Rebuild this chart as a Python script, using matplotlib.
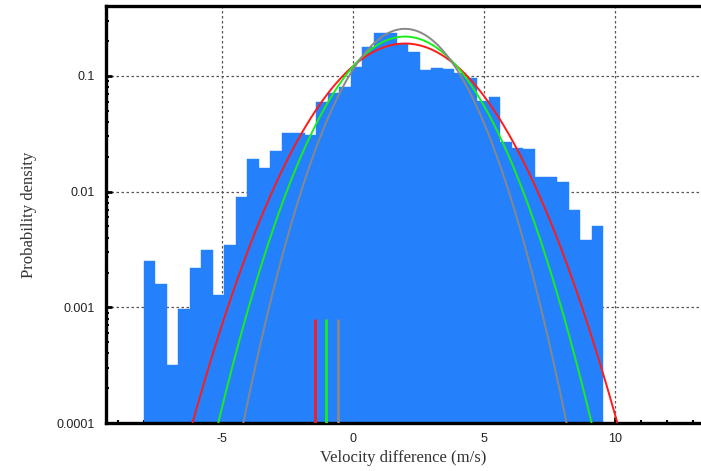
import numpy as np
import matplotlib
matplotlib.use('Agg')
import matplotlib.pyplot as plt
from matplotlib.ticker import MultipleLocator, FixedLocator, LogLocator

#HISTOGRAM DATA (velocity difference, m/s)

bin_start = -8.0
bin_end = 9.57
bin_count = 40
density = [0.00252, 0.0016, 0.000316, 0.00096, 0.0022, 0.00313, 0.00128, 0.00346,
           0.00896, 0.0192, 0.0160, 0.0226, 0.0324, 0.0320, 0.0309, 0.0593,
           0.0709, 0.0798, 0.1189, 0.177, 0.234, 0.234, 0.188, 0.162,
           0.1127, 0.118, 0.115, 0.107, 0.097, 0.0609, 0.0663, 0.0271,
           0.0240, 0.0234, 0.0133, 0.0133, 0.0122, 0.00695, 0.00383, 0.00506]

#FITTED NORMAL CURVES (mean, std)

fit_colors = ['#ff1a1a', '#1aee1a', '#888888']
fit_mean = [1.98, 1.98, 1.98]
fit_std = [2.09, 1.82, 1.56]

#MARKER LINES

marker_x = [-1.45, -1.02, -0.58]
marker_top = 0.0008

xticks = [-5, 0, 5, 10]
yticks = [0.0001, 0.001, 0.01, 0.1]
ytick_labels = ['0.0001', '0.001', '0.01', '0.1']


def main():
	fig = plt.figure(figsize=(7.01, 4.71), dpi=100)
	ax = fig.add_axes([0.1512, 0.1019, 0.8488, 0.8854])

	edges = np.linspace(bin_start, bin_end, bin_count + 1)
	width = edges[1] - edges[0]

	ax.set_yscale('log')
	ax.set_axisbelow(True)
	ax.grid(True, which='major', color='#555555', linestyle=(0, (2, 2)), linewidth=0.9)

	ax.bar(edges[:-1], density, width=width, align='edge', color='#2481fb',
	       edgecolor='#2481fb', linewidth=0.3, zorder=2)

	xs = np.linspace(-9.5, 13.5, 800)
	for m, s, c in zip(fit_mean, fit_std, fit_colors):
		pdf = np.exp(-0.5 * ((xs - m) / s) ** 2) / (s * np.sqrt(2 * np.pi))
		ax.plot(xs, pdf, color=c, linewidth=1.4, zorder=3)

	for x, c in zip(marker_x, fit_colors):
		ax.vlines(x, 1e-4, marker_top, color=c, linewidth=2.0, zorder=4)

	ax.set_xlim(-9.45, 13.3)
	ax.set_ylim(1e-4, 0.403)

	ax.xaxis.set_major_locator(FixedLocator(xticks))
	ax.xaxis.set_minor_locator(MultipleLocator(1))
	ax.yaxis.set_major_locator(FixedLocator(yticks))
	ax.yaxis.set_minor_locator(LogLocator(base=10, subs=np.arange(2, 10)))
	ax.set_yticklabels(ytick_labels)
	ax.set_xticklabels([str(t) for t in xticks])

	ax.tick_params(which='major', direction='in', length=4, width=2.0, labelsize=9)
	ax.tick_params(which='minor', direction='in', length=2.5, width=1.5)
	ax.tick_params(axis='y', which='both', pad=8)
	ax.tick_params(axis='x', which='both', pad=7)
	for lab in ax.get_xticklabels() + ax.get_yticklabels():
		lab.set_fontfamily('Liberation Sans')
		lab.set_color('#222222')

	for side in ['left', 'bottom', 'top']:
		ax.spines[side].set_linewidth(2.4)
	ax.spines['right'].set_visible(False)

	ax.set_xlabel('Velocity difference (m/s)', fontfamily='Liberation Serif',
	              fontsize=12, color='#333333', labelpad=4)
	ax.set_ylabel('Probability density', fontfamily='Liberation Serif',
	              fontsize=12, color='#333333', labelpad=14)

	fig.savefig('out.png', dpi=100)


if __name__ == "__main__":
	main()
